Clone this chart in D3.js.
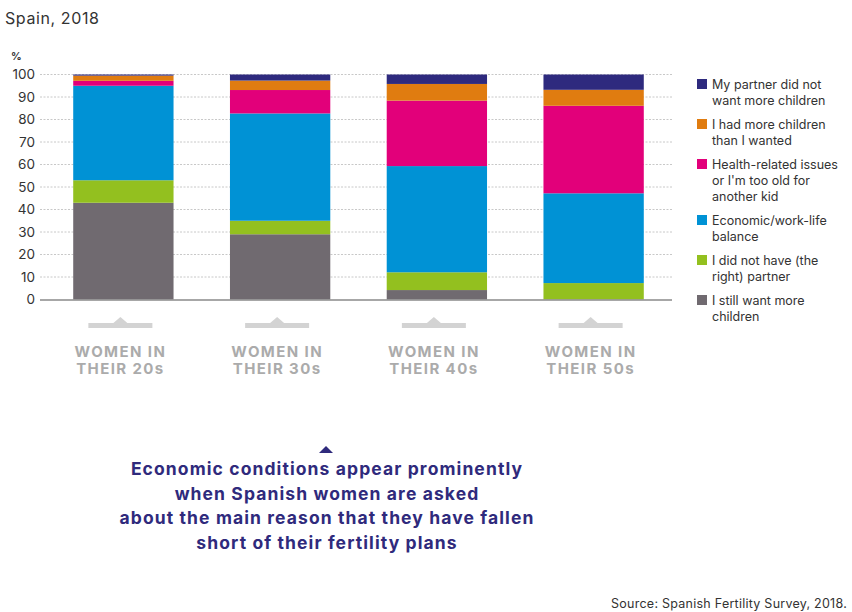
<!DOCTYPE html>
<html>
<head>
<meta charset="utf-8">
<script src="https://cdn.jsdelivr.net/npm/d3@7"></script>
<style>
  html, body { margin: 0; padding: 0; background: #fff; }
  svg { display: block; font-family: Inter, "Open Sans", sans-serif; }
</style>
</head>
<body>
<svg id="chart" width="852" height="612"></svg>
<script>
// Age groups (x categories)
const groups = ["20s", "30s", "40s", "50s"];
const groupLabels = [["WOMEN IN", "THEIR 20s"], ["WOMEN IN", "THEIR 30s"], ["WOMEN IN", "THEIR 40s"], ["WOMEN IN", "THEIR 50s"]];

// Reasons, stacked bottom to top
const reasons = ["still", "partnerNone", "economic", "health", "tooMany", "partnerNo"];
const reasonLabels = {
  partnerNo: ["My partner did not", "want more children"],
  tooMany: ["I had more children", "than I wanted"],
  health: ["Health-related issues", "or I'm too old for", "another kid"],
  economic: ["Economic/work-life", "balance"],
  partnerNone: ["I did not have (the", "right) partner"],
  still: ["I still want more", "children"]
};
const reasonColors = {
  partnerNo: "#2e2a7e",
  tooMany: "#e07c10",
  health: "#e2007a",
  economic: "#0092d5",
  partnerNone: "#93c01f",
  still: "#706a70"
};

// Shares (%) per age group
const stillWant   = [43.0, 29.0, 4.2, 0.0];
const noPartner   = [10.0, 6.0, 7.9, 7.3];
const economic    = [42.0, 47.7, 47.2, 39.9];
const health      = [2.2, 10.4, 29.1, 38.9];
const tooMany     = [2.3, 4.2, 7.4, 7.1];
const partnerNo   = [0.5, 2.7, 4.2, 6.8];

const yTicks = [0, 10, 20, 30, 40, 50, 60, 70, 80, 90, 100];

const rows = groups.map((g, i) => ({
  group: g,
  still: stillWant[i],
  partnerNone: noPartner[i],
  economic: economic[i],
  health: health[i],
  tooMany: tooMany[i],
  partnerNo: partnerNo[i]
}));

const svg = d3.select("#chart");

const x = d3.scaleBand().domain(groups).range([45, 672]).paddingInner(0.36).paddingOuter(0.18);
const y = d3.scaleLinear().domain([0, 100]).range([299.5, 74.5]);

// Title
svg.append("text").attr("x", 5).attr("y", 24)
  .attr("font-size", 16).attr("letter-spacing", 0.6).attr("fill", "#333").text("Spain, 2018");

// Unit label
svg.append("text").attr("x", 11).attr("y", 60)
  .attr("font-size", 10.5).attr("font-weight", 700).attr("fill", "#333").text("%");

// Gridlines
svg.append("g").selectAll("line").data(yTicks.filter(d => d > 0)).join("line")
  .attr("x1", 40).attr("x2", 672)
  .attr("y1", d => y(d)).attr("y2", d => y(d))
  .attr("stroke", "#c8c8c8").attr("stroke-width", 1)
  .attr("stroke-dasharray", "2,1.5");

// Y axis labels
const yAxis = d3.axisLeft(y).tickValues(yTicks).tickSize(0).tickPadding(0);
const yg = svg.append("g").attr("transform", "translate(35,0)").call(yAxis);
yg.select(".domain").remove();
yg.selectAll("text").attr("font-size", 13.5).attr("fill", "#333")
  .attr("font-family", "Inter, 'Open Sans', sans-serif");

// Stacked bars
const stack = d3.stack().keys(reasons);
const series = stack(rows);
svg.append("g").selectAll("g").data(series).join("g")
  .attr("fill", d => reasonColors[d.key])
  .selectAll("rect").data(d => d).join("rect")
  .attr("x", d => x(d.data.group))
  .attr("width", x.bandwidth())
  .attr("y", d => y(d[1]))
  .attr("height", d => y(d[0]) - y(d[1]));

// Baseline
svg.append("line").attr("x1", 40).attr("x2", 672)
  .attr("y1", y(0) + 0.5).attr("y2", y(0) + 0.5)
  .attr("stroke", "#8a8a8a").attr("stroke-width", 1.5);

// Category markers and labels
const cat = svg.append("g").selectAll("g").data(groups).join("g")
  .attr("transform", d => `translate(${x(d) + x.bandwidth() / 2 - 3},0)`);
cat.append("rect").attr("x", -32).attr("y", 323).attr("width", 64).attr("height", 5)
  .attr("fill", "#d3d3d3");
cat.append("path").attr("d", "M-7,323 L0,317 L7,323 Z").attr("fill", "#d3d3d3");
cat.each(function(d, i) {
  groupLabels[i].forEach((line, j) => {
    d3.select(this).append("text").attr("text-anchor", "middle")
      .attr("font-size", 15).attr("font-weight", 700).attr("letter-spacing", 1.4)
      .attr("fill", "#ababab")
      .attr("x", 0).attr("y", 357 + j * 17).text(line);
  });
});

// Legend
const legendOrder = ["partnerNo", "tooMany", "health", "economic", "partnerNone", "still"];
let ly = 89;
legendOrder.forEach(k => {
  const lines = reasonLabels[k];
  svg.append("rect").attr("x", 697).attr("y", ly - 10).attr("width", 10).attr("height", 10)
    .attr("fill", reasonColors[k]);
  const t = svg.append("text").attr("font-size", 12.5).attr("fill", "#333");
  lines.forEach((line, j) => {
    t.append("tspan").attr("x", 712).attr("y", ly + j * 16).text(line);
  });
  ly += lines.length * 16 + 8;
});

// Annotation
const noteColor = "#2f2a7c";
svg.append("path").attr("d", "M319,453 L326,446 L333,453 Z").attr("fill", noteColor);
const noteLines = [
  "Economic conditions appear prominently",
  "when Spanish women are asked",
  "about the main reason that they have fallen",
  "short of their fertility plans"
];
noteLines.forEach((line, j) => {
  svg.append("text").attr("text-anchor", "middle")
    .attr("font-size", 17.5).attr("font-weight", 700).attr("letter-spacing", 1.1)
    .attr("fill", noteColor)
    .attr("x", 327).attr("y", 475 + j * 24.7).text(line);
});

// Source
svg.append("text").attr("x", 847).attr("y", 608).attr("text-anchor", "end")
  .attr("font-size", 12.5).attr("letter-spacing", 0.25).attr("fill", "#333")
  .text("Source: Spanish Fertility Survey, 2018.");
</script>
</body>
</html>
